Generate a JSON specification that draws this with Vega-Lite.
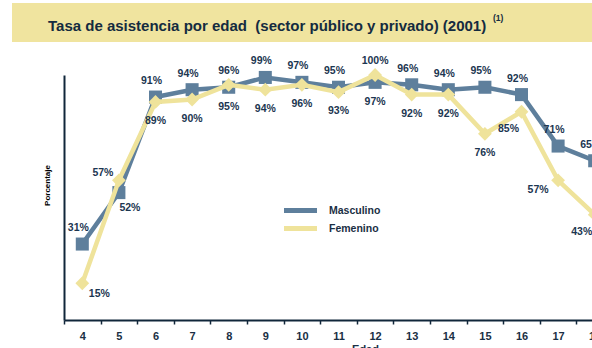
{
  "$schema": "https://vega.github.io/schema/vega-lite/v6.json",
  "width": 528,
  "height": 245,
  "autosize": {"type": "none"},
  "padding": {"left": 64, "top": 75, "right": 0, "bottom": 28},
  "background": "#ffffff",
  "config": {"view": {"stroke": null}, "font": "Liberation Sans"},
  "datasets": {
    "tasa": [
      {"edad": 4, "sexo": "Masculino", "valor": 0.31},
      {"edad": 5, "sexo": "Masculino", "valor": 0.52},
      {"edad": 6, "sexo": "Masculino", "valor": 0.91},
      {"edad": 7, "sexo": "Masculino", "valor": 0.94},
      {"edad": 8, "sexo": "Masculino", "valor": 0.95},
      {"edad": 9, "sexo": "Masculino", "valor": 0.99},
      {"edad": 10, "sexo": "Masculino", "valor": 0.97},
      {"edad": 11, "sexo": "Masculino", "valor": 0.95},
      {"edad": 12, "sexo": "Masculino", "valor": 0.97},
      {"edad": 13, "sexo": "Masculino", "valor": 0.96},
      {"edad": 14, "sexo": "Masculino", "valor": 0.94},
      {"edad": 15, "sexo": "Masculino", "valor": 0.95},
      {"edad": 16, "sexo": "Masculino", "valor": 0.92},
      {"edad": 17, "sexo": "Masculino", "valor": 0.71},
      {"edad": 18, "sexo": "Masculino", "valor": 0.65},
      {"edad": 4, "sexo": "Femenino", "valor": 0.15},
      {"edad": 5, "sexo": "Femenino", "valor": 0.57},
      {"edad": 6, "sexo": "Femenino", "valor": 0.89},
      {"edad": 7, "sexo": "Femenino", "valor": 0.90},
      {"edad": 8, "sexo": "Femenino", "valor": 0.96},
      {"edad": 9, "sexo": "Femenino", "valor": 0.94},
      {"edad": 10, "sexo": "Femenino", "valor": 0.96},
      {"edad": 11, "sexo": "Femenino", "valor": 0.93},
      {"edad": 12, "sexo": "Femenino", "valor": 1.00},
      {"edad": 13, "sexo": "Femenino", "valor": 0.92},
      {"edad": 14, "sexo": "Femenino", "valor": 0.92},
      {"edad": 15, "sexo": "Femenino", "valor": 0.76},
      {"edad": 16, "sexo": "Femenino", "valor": 0.85},
      {"edad": 17, "sexo": "Femenino", "valor": 0.57},
      {"edad": 18, "sexo": "Femenino", "valor": 0.43}
    ]
  },
  "layer": [
    {
      "data": {"values": [{"titulo": "Tasa de asistencia por edad\u00a0 (sector público y privado) (2001)", "nota": "(1)"}]},
      "layer": [
        {
          "mark": {"type": "rect", "color": "#F0E49F"},
          "encoding": {
            "x": {"datum": 0, "type": "quantitative", "scale": {"domain": [0, 580], "range": [-52, 528]}, "axis": null},
            "x2": {"datum": 580},
            "y": {"datum": 0, "type": "quantitative", "scale": {"domain": [0, 1], "range": [-33, -72]}, "axis": null},
            "y2": {"datum": 1}
          }
        },
        {
          "mark": {"type": "text", "align": "left", "baseline": "alphabetic", "fontSize": 15, "fontWeight": "bold", "color": "#142B40"},
          "encoding": {
            "x": {"datum": 36, "type": "quantitative", "scale": {"domain": [0, 580], "range": [-52, 528]}, "axis": null},
            "y": {"datum": 0.28, "type": "quantitative", "scale": {"domain": [0, 1], "range": [-33, -72]}, "axis": null},
            "text": {"field": "titulo"}
          }
        },
        {
          "mark": {"type": "text", "align": "left", "baseline": "alphabetic", "fontSize": 8.5, "fontWeight": "bold", "color": "#142B40"},
          "encoding": {
            "x": {"datum": 481, "type": "quantitative", "scale": {"domain": [0, 580], "range": [-52, 528]}, "axis": null},
            "y": {"datum": 0.54, "type": "quantitative", "scale": {"domain": [0, 1], "range": [-33, -72]}, "axis": null},
            "text": {"field": "nota"}
          }
        }
      ]
    },
    {
      "data": {"name": "tasa"},
      "encoding": {
        "x": {
          "field": "edad",
          "type": "ordinal",
          "scale": {"type": "band", "domain": [4, 5, 6, 7, 8, 9, 10, 11, 12, 13, 14, 15, 16, 17, 18], "range": [0, 549], "paddingInner": 0, "paddingOuter": 0},
          "axis": {
            "title": "Edad",
            "labelAngle": 0,
            "grid": false,
            "domainColor": "#10263A",
            "domainWidth": 2,
            "tickBand": "extent",
            "tickColor": "#10263A",
            "tickSize": 4,
            "tickWidth": 1.5,
            "labelFontSize": 11,
            "labelFontWeight": "bold",
            "labelColor": "#1A2F44",
            "labelPadding": 6,
            "titleFontSize": 11,
            "titleFontWeight": "bold",
            "titleColor": "#1A2F44",
            "titleX": 301,
            "titleY": 23,
            "titleAlign": "center",
            "titleBaseline": "top"
          }
        },
        "y": {
          "field": "valor",
          "type": "quantitative",
          "scale": {"domain": [0, 1], "nice": false},
          "axis": {
            "title": "Porcentaje",
            "labels": false,
            "ticks": false,
            "grid": false,
            "domainColor": "#10263A",
            "domainWidth": 2,
            "titleFontSize": 8,
            "titleFontWeight": "bold",
            "titleColor": "#000000",
            "titleX": -17,
            "titleY": 110,
            "titleAlign": "center",
            "titleBaseline": "middle"
          }
        }
      },
      "layer": [
        {
          "transform": [{"filter": {"field": "sexo", "equal": "Masculino"}}],
          "mark": {"type": "line", "strokeWidth": 4.5},
          "encoding": {
            "color": {
              "field": "sexo",
              "type": "nominal",
              "scale": {"domain": ["Masculino", "Femenino"], "range": ["#5E7F9C", "#EFE39B"]},
              "legend": {
                "orient": "none",
                "legendX": 229,
                "legendY": 128,
                "title": null,
                "padding": 0,
                "symbolType": "M-3.3,0H3.3",
                "symbolSize": 100,
                "symbolStrokeWidth": 5,
                "labelFontSize": 10.5,
                "labelFontWeight": "bold",
                "labelColor": "#1A2F44",
                "labelOffset": 21,
                "rowPadding": -4
              }
            }
          }
        },
        {
          "transform": [{"filter": {"field": "sexo", "equal": "Masculino"}}],
          "mark": {"type": "point", "filled": true, "opacity": 1, "size": 170, "shape": "square", "color": "#5E7F9C"}
        },
        {
          "transform": [{"filter": {"field": "sexo", "equal": "Femenino"}}],
          "mark": {"type": "line", "strokeWidth": 4.5},
          "encoding": {
            "color": {"field": "sexo", "type": "nominal"}
          }
        },
        {
          "transform": [{"filter": {"field": "sexo", "equal": "Femenino"}}],
          "mark": {"type": "point", "filled": true, "opacity": 1, "size": 190, "shape": "diamond", "color": "#EFE39B"}
        },
        {
          "transform": [{"filter": {"and": [{"field": "sexo", "equal": "Masculino"}, {"field": "edad", "oneOf": [4, 6, 7, 9, 10, 11, 13, 14, 15, 16, 17, 18]}]}}],
          "mark": {"type": "text", "dx": -4, "dy": -16, "fontSize": 10.5, "fontWeight": "bold", "color": "#1C3651"},
          "encoding": {"text": {"field": "valor", "type": "quantitative", "format": ".0%"}}
        },
        {
          "transform": [{"filter": {"and": [{"field": "sexo", "equal": "Masculino"}, {"field": "edad", "oneOf": [8, 12]}]}}],
          "mark": {"type": "text", "dy": 20, "fontSize": 10.5, "fontWeight": "bold", "color": "#1C3651"},
          "encoding": {"text": {"field": "valor", "type": "quantitative", "format": ".0%"}}
        },
        {
          "transform": [{"filter": {"and": [{"field": "sexo", "equal": "Masculino"}, {"field": "edad", "oneOf": [5]}]}}],
          "mark": {"type": "text", "dx": 11, "dy": 15, "fontSize": 10.5, "fontWeight": "bold", "color": "#1C3651"},
          "encoding": {"text": {"field": "valor", "type": "quantitative", "format": ".0%"}}
        },
        {
          "transform": [{"filter": {"and": [{"field": "sexo", "equal": "Femenino"}, {"field": "edad", "oneOf": [6, 7, 9, 10, 11, 13, 14, 15]}]}}],
          "mark": {"type": "text", "dy": 19, "fontSize": 10.5, "fontWeight": "bold", "color": "#1C3651"},
          "encoding": {"text": {"field": "valor", "type": "quantitative", "format": ".0%"}}
        },
        {
          "transform": [{"filter": {"and": [{"field": "sexo", "equal": "Femenino"}, {"field": "edad", "oneOf": [16, 18]}]}}],
          "mark": {"type": "text", "dx": -13, "dy": 17, "fontSize": 10.5, "fontWeight": "bold", "color": "#1C3651"},
          "encoding": {"text": {"field": "valor", "type": "quantitative", "format": ".0%"}}
        },
        {
          "transform": [{"filter": {"and": [{"field": "sexo", "equal": "Femenino"}, {"field": "edad", "oneOf": [17]}]}}],
          "mark": {"type": "text", "dx": -20, "dy": 10, "fontSize": 10.5, "fontWeight": "bold", "color": "#1C3651"},
          "encoding": {"text": {"field": "valor", "type": "quantitative", "format": ".0%"}}
        },
        {
          "transform": [{"filter": {"and": [{"field": "sexo", "equal": "Femenino"}, {"field": "edad", "oneOf": [4]}]}}],
          "mark": {"type": "text", "dx": 17, "dy": 11, "fontSize": 10.5, "fontWeight": "bold", "color": "#1C3651"},
          "encoding": {"text": {"field": "valor", "type": "quantitative", "format": ".0%"}}
        },
        {
          "transform": [{"filter": {"and": [{"field": "sexo", "equal": "Femenino"}, {"field": "edad", "oneOf": [8, 12]}]}}],
          "mark": {"type": "text", "dy": -14, "fontSize": 10.5, "fontWeight": "bold", "color": "#1C3651"},
          "encoding": {"text": {"field": "valor", "type": "quantitative", "format": ".0%"}}
        },
        {
          "transform": [{"filter": {"and": [{"field": "sexo", "equal": "Femenino"}, {"field": "edad", "oneOf": [5]}]}}],
          "mark": {"type": "text", "dx": -16, "dy": -7, "fontSize": 10.5, "fontWeight": "bold", "color": "#1C3651"},
          "encoding": {"text": {"field": "valor", "type": "quantitative", "format": ".0%"}}
        }
      ]
    }
  ],
  "resolve": {"scale": {"x": "independent", "y": "independent"}}
}
